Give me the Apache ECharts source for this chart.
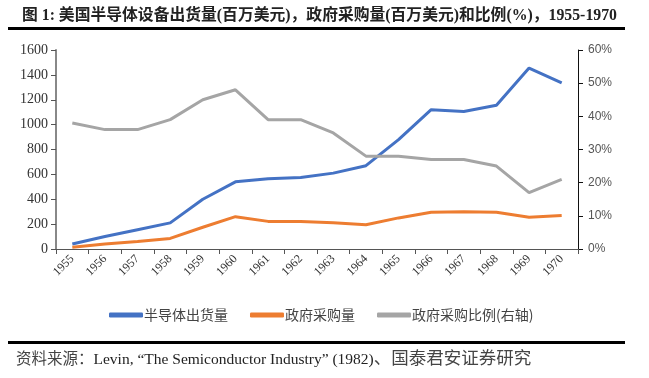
<!DOCTYPE html>
<html>
<head>
<meta charset="utf-8">
<script src="https://cdn.jsdelivr.net/npm/echarts@6/dist/echarts.min.js"></script>
<style>html,body{margin:0;padding:0;background:#fff}#c{width:649px;height:378px}</style>
</head>
<body>
<div id="c"></div>
<script>
var years = ['1955','1956','1957','1958','1959','1960','1961','1962','1963','1964','1965','1966','1967','1968','1969','1970'];
var shipments = [40, 100, 155, 210, 400, 540, 565, 575, 610, 670, 880, 1120, 1105, 1155, 1455, 1335];
var govPurchase = [15, 40, 60, 85, 175, 260, 222, 222, 212, 195, 250, 295, 300, 295, 255, 270];
var govShare = [38, 36, 36, 39, 45, 48, 39, 39, 35, 28, 28, 27, 27, 25, 17, 21];
var leftTicks = [0, 200, 400, 600, 800, 1000, 1200, 1400, 1600];
var rightTicks = [0, 10, 20, 30, 40, 50, 60];

var serif = "'Liberation Serif','Noto Sans CJK SC',serif";
var chart = echarts.init(document.getElementById('c'));
chart.setOption({
  animation: false,
  backgroundColor: '#fff',
  title: {
    text: '图 1: 美国半导体设备出货量(百万美元)，政府采购量(百万美元)和比例(%)，1955-1970',
    left: 17, top: 3,
    textStyle: {fontFamily: serif, fontSize: 15.8, fontWeight: 'bold', color: '#222'}
  },
  graphic: [
    {type: 'rect', shape: {x: 8, y: 27, width: 617, height: 3}, style: {fill: '#000'}},
    {type: 'rect', shape: {x: 8, y: 341, width: 617, height: 3}, style: {fill: '#000'}},
    {type: 'text', left: 16, top: 351, style: {
      text: '{a|资料来源：}{b|Levin, “The Semiconductor Industry” (1982)}{c|、国泰君安证券研究}',
      fill: '#333',
      rich: {
        a: {fontFamily: serif, fontSize: 15.5, fill: '#444'},
        b: {fontFamily: serif, fontSize: 15.5, fill: '#222'},
        c: {fontFamily: serif, fontSize: 17.5, fill: '#444'}
      }
    }}
  ],
  legend: {
    top: 303, left: 104,
    itemWidth: 34, itemHeight: 5, itemGap: 22,
    icon: 'roundRect',
    textStyle: {fontFamily: "'Noto Sans CJK SC',sans-serif", fontSize: 14, color: '#444', padding: [0, 0, 0, -4]},
    data: ['半导体出货量', '政府采购量', '政府采购比例(右轴)']
  },
  grid: {left: 56, right: 71, top: 50, bottom: 129},
  xAxis: {
    type: 'category', data: years, boundaryGap: true,
    axisLine: {lineStyle: {color: '#555', width: 1}},
    axisTick: {show: true, length: 5, lineStyle: {color: '#555'}},
    axisLabel: {rotate: 45, fontFamily: serif, fontSize: 12, color: '#333', margin: 8, interval: 0}
  },
  yAxis: [
    {
      type: 'value', min: 0, max: 1600, interval: 200,
      axisLine: {show: true, lineStyle: {color: '#888', width: 2}},
      axisTick: {show: true, length: 5, lineStyle: {color: '#555'}},
      splitLine: {show: false},
      axisLabel: {fontFamily: serif, fontSize: 14, color: '#333', margin: 8,
        formatter: function (v) { return leftTicks.indexOf(v) >= 0 ? String(v) : ''; }}
    },
    {
      type: 'value', min: 0, max: 60, interval: 10, position: 'right',
      axisLine: {show: true, lineStyle: {color: '#111', width: 1}},
      axisTick: {show: true, length: 5, lineStyle: {color: '#111'}},
      splitLine: {show: false},
      axisLabel: {fontFamily: "'Liberation Sans',sans-serif", fontSize: 12, color: '#555', margin: 10,
        formatter: function (v) { return rightTicks.indexOf(v) >= 0 ? v + '%' : ''; }}
    }
  ],
  series: [
    {name: '半导体出货量', type: 'line', data: shipments, yAxisIndex: 0, symbol: 'none',
      lineStyle: {color: '#4472C4', width: 3}, itemStyle: {color: '#4472C4'}},
    {name: '政府采购量', type: 'line', data: govPurchase, yAxisIndex: 0, symbol: 'none',
      lineStyle: {color: '#ED7D31', width: 3}, itemStyle: {color: '#ED7D31'}},
    {name: '政府采购比例(右轴)', type: 'line', data: govShare, yAxisIndex: 1, symbol: 'none',
      lineStyle: {color: '#A5A5A5', width: 3}, itemStyle: {color: '#A5A5A5'}}
  ]
});
</script>
</body>
</html>
